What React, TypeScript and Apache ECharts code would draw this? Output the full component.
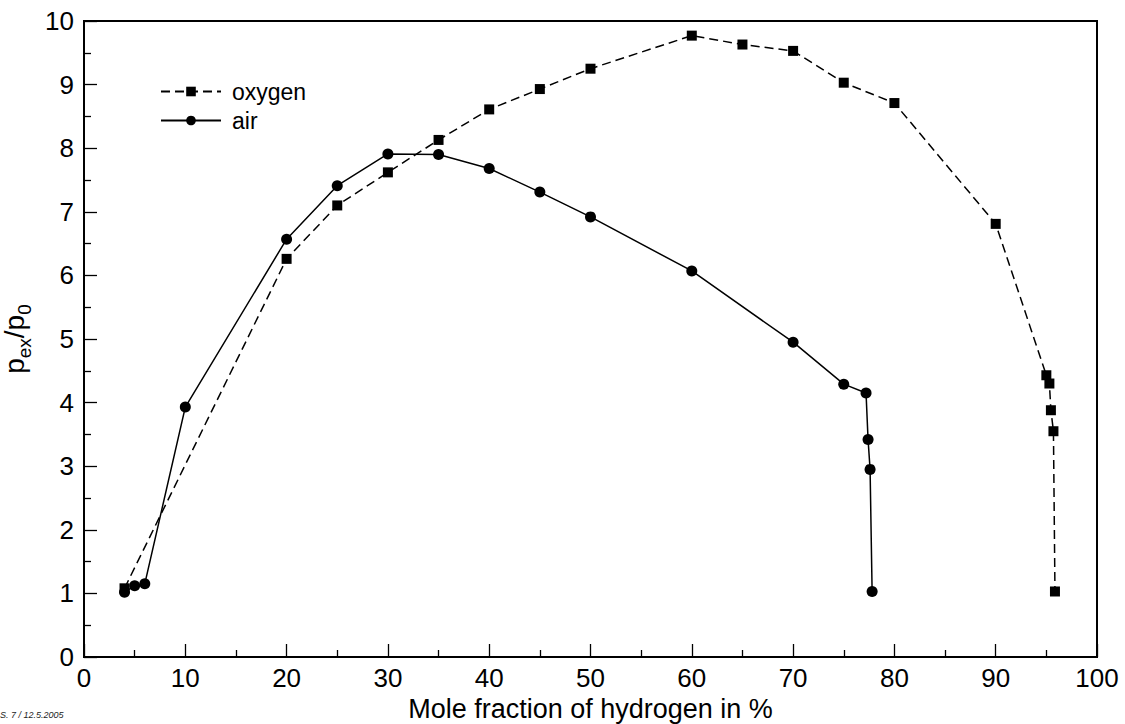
import React, { useEffect, useRef } from "react";
import * as echarts from "echarts";

const oxygenX = [4, 20, 25, 30, 35, 40, 45, 50, 60, 65, 70, 75, 80, 90, 95.0, 95.3, 95.45, 95.7, 95.85];
const oxygenY = [1.08, 6.26, 7.1, 7.62, 8.13, 8.61, 8.93, 9.25, 9.77, 9.63, 9.53, 9.03, 8.71, 6.81, 4.43, 4.3, 3.88, 3.55, 1.03];
const airX = [4, 5, 6, 10, 20, 25, 30, 35, 40, 45, 50, 60, 70, 75, 77.2, 77.4, 77.6, 77.8];
const airY = [1.02, 1.12, 1.15, 3.93, 6.57, 7.41, 7.91, 7.9, 7.68, 7.31, 6.92, 6.07, 4.95, 4.29, 4.15, 3.42, 2.95, 1.03];
const seriesNames = ["oxygen", "air"];
const xTitle = "Mole fraction of hydrogen in %";
const footer = "S. 7 / 12.5.2005";

const FONT = "'Liberation Sans', Arial, sans-serif";

export default function App() {
  const ref = useRef<HTMLDivElement>(null);
  useEffect(() => {
    if (!ref.current) return;
    const chart = echarts.init(ref.current, undefined, { renderer: "svg" });
    const zip = (xs: number[], ys: number[]) => xs.map((x, i) => [x, ys[i]]);
    chart.setOption({
      animation: false,
      backgroundColor: "#fff",
      textStyle: { fontFamily: FONT, color: "#000" },
      grid: {
        left: 84,
        right: 28,
        top: 21,
        bottom: 67,
        outerBoundsMode: "none",
        containLabel: false,
        show: true,
        borderColor: "#000",
        borderWidth: 2,
        backgroundColor: "transparent",
      },
      legend: {
        orient: "vertical",
        left: 155,
        top: 74,
        itemWidth: 60,
        itemHeight: 12,
        itemGap: 4,
        data: seriesNames,
        textStyle: { fontSize: 23, fontFamily: FONT, color: "#000", padding: [0, 0, 0, 6], lineHeight: 25 },
      },
      xAxis: {
        type: "value",
        min: 0,
        max: 100,
        interval: 10,
        name: xTitle,
        nameLocation: "middle",
        nameGap: 36,
        nameTextStyle: { fontSize: 27, fontFamily: FONT, color: "#000", verticalAlign: "top" },
        axisLine: { show: true, onZero: false, lineStyle: { color: "#000", width: 2 } },
        axisTick: { show: true, inside: true, length: 13, lineStyle: { color: "#000", width: 1.3 } },
        minorTick: { show: true, splitNumber: 2, length: 7, lineStyle: { color: "#000", width: 1.3 } },
        axisLabel: { fontSize: 26, fontFamily: FONT, color: "#000", margin: 8 },
        splitLine: { show: false },
      },
      yAxis: {
        type: "value",
        min: 0,
        max: 10,
        interval: 1,
        name: "{p|p}{s|ex}{p|/p}{s|0}",
        nameLocation: "middle",
        nameGap: 28,
        nameRotate: 90,
        nameTextStyle: {
          rich: {
            p: { fontSize: 28, fontFamily: FONT, color: "#000", verticalAlign: "top", lineHeight: 34 },
            s: { fontSize: 19, fontFamily: FONT, color: "#000", verticalAlign: "bottom", lineHeight: 34 },
          },
        },
        axisLine: { show: true, onZero: false, lineStyle: { color: "#000", width: 2 } },
        axisTick: { show: true, inside: true, length: 13, lineStyle: { color: "#000", width: 1.3 } },
        minorTick: { show: true, splitNumber: 2, length: 7, lineStyle: { color: "#000", width: 1.3 } },
        axisLabel: { fontSize: 26, fontFamily: FONT, color: "#000", margin: 10 },
        splitLine: { show: false },
      },
      series: [
        {
          name: seriesNames[0],
          type: "line",
          data: zip(oxygenX, oxygenY),
          symbol: "rect",
          symbolSize: 10,
          itemStyle: { color: "#000" },
          lineStyle: { color: "#000", width: 1.5, type: [9, 5] },
          z: 3,
        },
        {
          name: seriesNames[1],
          type: "line",
          data: zip(airX, airY),
          symbol: "circle",
          symbolSize: 11,
          itemStyle: { color: "#000" },
          lineStyle: { color: "#000", width: 1.5, type: "solid" },
          z: 4,
        },
      ],
      graphic: [
        {
          type: "text",
          left: 0,
          top: 710,
          style: { text: footer, fontSize: 9, fontStyle: "italic", fontFamily: FONT, fill: "#222" },
        },
      ],
    });
    return () => chart.dispose();
  }, []);
  return (
    <div
      ref={ref}
      style={{ position: "fixed", left: 0, top: 0, width: 1125, height: 724, background: "#fff" }}
    />
  );
}
